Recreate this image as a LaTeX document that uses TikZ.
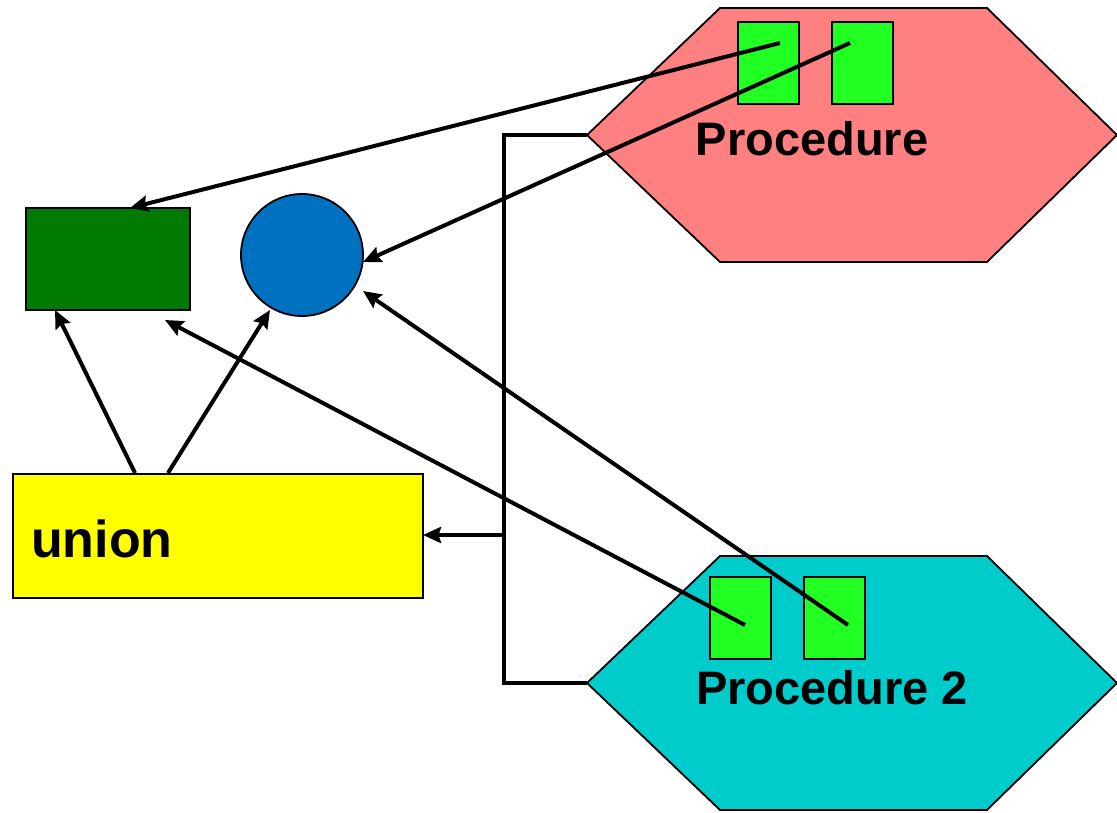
\documentclass[tikz,border=0pt]{standalone}
\usepackage{fontspec}
\setmainfont{Liberation Sans}
\usetikzlibrary{arrows.meta}
\definecolor{procpink}{RGB}{255,128,128}
\definecolor{proccyan}{RGB}{0,204,204}
\definecolor{slotgreen}{RGB}{34,255,34}
\definecolor{typegreen}{RGB}{0,122,0}
\definecolor{objblue}{RGB}{0,112,192}
\definecolor{unionyellow}{RGB}{255,255,0}
\tikzset{
  outline/.style={draw=black,line width=1.8pt},
  slot/.style={outline,fill=slotgreen,minimum width=61pt,minimum height=82pt,inner sep=0pt,anchor=north west},
  link/.style={line width=4pt,-{Stealth[length=18pt,width=16pt,inset=2.5pt]}},
  wire/.style={line width=4pt},
  bigtext/.style={font=\fontsize{47}{50}\selectfont\bfseries,inner sep=0pt}
}
\begin{document}
\begin{tikzpicture}[x=1pt,y=-1pt]
\useasboundingbox (0,0) rectangle (1117,812);

% procedure hexagons
\draw[outline,fill=procpink] (720,8) -- (987,8) -- (1117,135) -- (987,262) -- (720,262) -- (587,135) -- cycle;
\coordinate (p1) at (587,135);
\draw[outline,fill=proccyan] (720,556) -- (987,556) -- (1117,683) -- (987,810) -- (720,810) -- (587,683) -- cycle;
\coordinate (p2) at (587,683);

% parameter slots
\node[slot] (sa) at (737,21) {};
\node[slot] (sb) at (831,21) {};
\node[slot] (sc) at (709,576) {};
\node[slot] (sd) at (803,576) {};

\node[bigtext,anchor=base] (t1) at (812,155) {Procedure};
\node[bigtext,anchor=base] (t2) at (832,704) {Procedure 2};

% type shapes
\node[outline,fill=typegreen,minimum width=164pt,minimum height=102pt,inner sep=0pt,anchor=north west] (rect) at (25,207) {};
\node[outline,fill=objblue,circle,minimum size=122pt,inner sep=0pt] (circ) at (302,255) {};

% union
\node[outline,fill=unionyellow,minimum width=410pt,minimum height=124pt,inner sep=0pt,anchor=north west] (un) at (12,473) {};
\node[font=\fontsize{52}{54}\selectfont\bfseries,inner sep=0pt,anchor=base west] (ut) at (31,557) {union};

% connector end points
\coordinate (a1) at (780,43);
\coordinate (b1) at (850,43);
\coordinate (c1) at (745,625);
\coordinate (d1) at (848,625);
\coordinate (rtop) at (130,208);
\coordinate (rbot1) at (55,310);
\coordinate (rbot2) at (165,320);
\coordinate (cr1) at (363,262);
\coordinate (cr2) at (363,291);
\coordinate (cbot) at (270,310);
\coordinate (u1) at (135,473);
\coordinate (u2) at (168,473);
\coordinate (bx) at (504,135);
\coordinate (by) at (504,683);
\coordinate (bm) at (504,535);
\coordinate (ue) at (423,535);

% bracket joining the procedures to the union
\draw[wire] (p1) -- (bx) -- (by) -- (p2);
\draw[link] (bm) -- (ue);

% references from slots to types
\draw[link] (a1) -- (rtop);
\draw[link] (b1) -- (cr1);
\draw[link] (c1) -- (rbot2);
\draw[link] (d1) -- (cr2);

% union members
\draw[link] (u1) -- (rbot1);
\draw[link] (u2) -- (cbot);
\end{tikzpicture}
\end{document}
